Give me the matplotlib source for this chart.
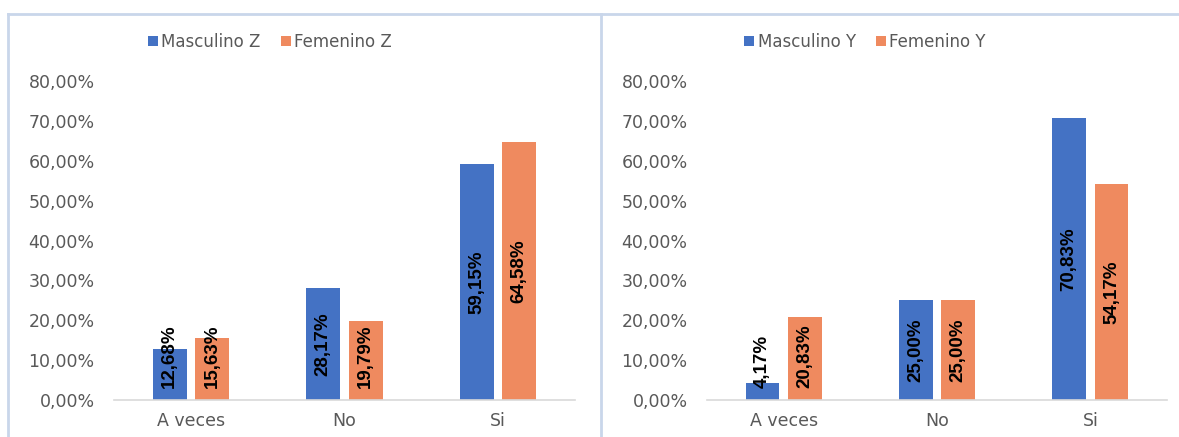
import matplotlib
matplotlib.use("Agg")
import matplotlib.pyplot as plt
from matplotlib.lines import Line2D
from matplotlib.ticker import FuncFormatter

categories = ["A veces", "No", "Si"]
masc_z = [12.68, 28.17, 59.15]
fem_z = [15.63, 19.79, 64.58]
masc_y = [4.17, 25.00, 70.83]
fem_y = [20.83, 25.00, 54.17]
y_ticks = [0, 10, 20, 30, 40, 50, 60, 70, 80]

BLUE = "#4472C4"
ORANGE = "#EF8A5F"
GRAY = "#595959"
BORDER = "#C9D6EA"

plt.rcParams['font.family'] = ['DejaVu Sans']

fig = plt.figure(figsize=(11.79, 4.37), dpi=100)
W, H = 1179.0, 437.0


def fmt(v):
    return ("%.2f%%" % v).replace(".", ",")


def panel(rect, masc, fem, names, legend_x):
    ax = fig.add_axes(rect)
    x = range(len(categories))
    off = 0.138
    bw = 0.22
    b1 = ax.bar([i - off for i in x], masc, bw, color=BLUE, label=names[0])
    b2 = ax.bar([i + off for i in x], fem, bw, color=ORANGE, label=names[1])
    ax.set_xlim(-0.5, 2.5)
    ax.set_ylim(0, 80)
    ax.set_yticks(y_ticks)
    ax.yaxis.set_major_formatter(FuncFormatter(lambda v, p: fmt(v)))
    ax.set_xticks(list(x))
    ax.set_xticklabels(categories)
    ax.tick_params(axis="y", length=0, pad=14, labelsize=12.5, labelcolor=GRAY)
    ax.tick_params(axis="x", length=0, pad=9, labelsize=12.5, labelcolor=GRAY)
    for s in ["top", "right", "left"]:
        ax.spines[s].set_visible(False)
    ax.spines["bottom"].set_color("#D9D9D9")
    ax.spines["bottom"].set_linewidth(1.2)

    # data labels, centred in the bar but kept above the axis
    texts = []
    for bars, vals in ((b1, masc), (b2, fem)):
        for rect_, v in zip(bars, vals):
            t = ax.text(rect_.get_x() + rect_.get_width() / 2, v / 2, fmt(v),
                        rotation=90, ha="center", va="center", color="black",
                        fontsize=13.5, fontweight="bold",
                        family=["Liberation Sans", "DejaVu Sans"])
            texts.append((t, v))
    fig.canvas.draw()
    r = fig.canvas.get_renderer()
    inv = ax.transData.inverted()
    for t, v in texts:
        bb = t.get_window_extent(r)
        y0 = inv.transform((0, bb.y0))[1]
        if y0 < 3.0:
            t.set_va("bottom")
            t.set_y(3.0)

    ax.legend(loc="center", bbox_to_anchor=(legend_x / W, 1 - 42 / H),
              bbox_transform=fig.transFigure, ncol=2, frameon=False,
              fontsize=12, labelcolor=GRAY, handlelength=0.6,
              handleheight=0.6, handletextpad=0.2, columnspacing=1.2)
    return ax


panel([114 / W, 1 - 400 / H, 461 / W, 319 / H], masc_z, fem_z,
      ["Masculino Z", "Femenino Z"], 270)
panel([707 / W, 1 - 400 / H, 460 / W, 319 / H], masc_y, fem_y,
      ["Masculino Y", "Femenino Y"], 865)

# chart borders
for xs, ys in (([8 / W, 1], [1 - 14 / H, 1 - 14 / H]),
               ([8 / W, 8 / W], [0, 1 - 14 / H]),
               ([601 / W, 601 / W], [0, 1 - 14 / H])):
    fig.add_artist(Line2D(xs, ys, color=BORDER, linewidth=2,
                          transform=fig.transFigure))

fig.savefig("out.png", dpi=100)
